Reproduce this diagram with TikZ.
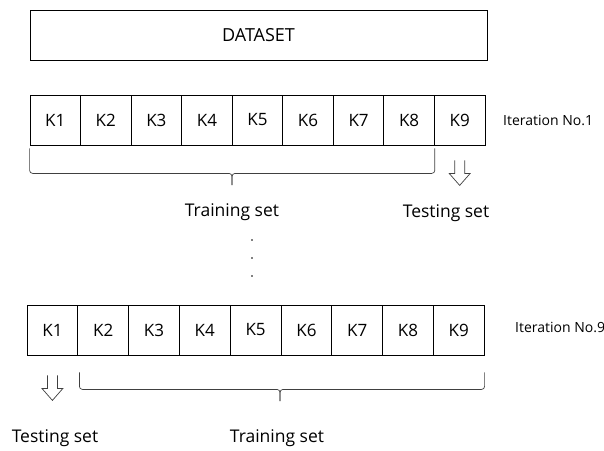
\documentclass[tikz,border=0pt]{standalone}
\usepackage{fontspec}
\setmainfont{Open Sans}
\usetikzlibrary{calc}
\begin{document}
\begin{tikzpicture}[x=1pt,y=-1pt,
  cell/.style={draw=black,line width=0.8pt,minimum width=50.55pt,minimum height=50pt,inner sep=0pt,font=\fontsize{17}{19}\selectfont},
  lbl/.style={font=\fontsize{17.5}{19}\selectfont,inner sep=0pt},
  itlbl/.style={font=\fontsize{14}{16}\selectfont,anchor=west,inner sep=0pt},
  bracepath/.style={draw=black!75,line width=0.7pt,rounded corners=3pt},
  hollowarrow/.style={draw=black!75,line width=0.7pt,fill=white}]
\useasboundingbox (0,0) rectangle (604,450);
% dataset box
\node[draw=black,line width=0.8pt,minimum width=457pt,minimum height=50pt,inner sep=0pt,font=\fontsize{18}{20}\selectfont] (ds) at (258.5,35) {DATASET};
% row 1
\foreach \i in {1,...,9}{
  \node[cell] (a\i) at ({30+50.55*(\i-0.5)},120) {K\i};
}
\node[itlbl] (it1) at (503,120) {Iteration No.1};
% brace 1
\coordinate (b1l) at ($(a1.south west)+(0,3)$);
\coordinate (b1r) at ($(a8.south east)+(0,3)$);
\path[bracepath] (b1l) -- ++(0,25) -| (232,185);
\path[bracepath] (b1r) -- ++(0,25) -| (232,185);
\node[lbl] (tr1) at (232,212) {Training set};
% arrow 1
\coordinate (ar1) at ($(a9.south)+(0,15)$);
\path[hollowarrow] ($(ar1)+(-5,0)$) -- ++(0,13) -- ++(-5.5,0) -- ($(ar1)+(0,25)$) -- ($(ar1)+(10.5,13)$) -- ++(-5.5,0) -- ++(0,-13);
\node[lbl] (te1) at (446,213) {Testing set};
% dots
\foreach \yy/\n in {240/d1,258/d2,276/d3}{
  \fill (252,\yy) circle (0.9pt) coordinate (\n);
}
% row 2
\foreach \i in {1,...,9}{
  \node[cell,minimum width=50.8pt] (c\i) at ({27+50.8*(\i-0.5)},330) {K\i};
}
\node[itlbl] (it9) at (515,327) {Iteration No.9};
% arrow 2
\coordinate (ar2) at ($(c1.south)+(0,20)$);
\path[hollowarrow] ($(ar2)+(-5,0)$) -- ++(0,13) -- ++(-5.5,0) -- ($(ar2)+(0,25)$) -- ($(ar2)+(10.5,13)$) -- ++(-5.5,0) -- ++(0,-13);
% brace 2
\coordinate (b2l) at ($(c2.south west)+(2,17)$);
\coordinate (b2r) at ($(c9.south east)+(0,17)$);
\path[bracepath] (b2l) -- ++(0,17) -| (280,401);
\path[bracepath] (b2r) -- ++(0,17) -| (280,401);
\node[lbl] (te2) at (55,438) {Testing set};
\node[lbl] (tr2) at (277,438) {Training set};
\end{tikzpicture}
\end{document}
